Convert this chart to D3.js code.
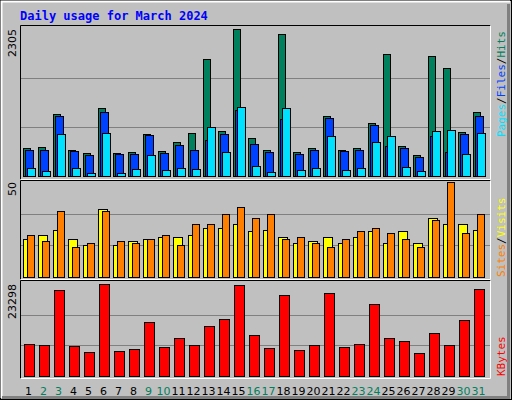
<!DOCTYPE html>
<html><head><meta charset="utf-8">
<script src="https://cdn.jsdelivr.net/npm/d3@7"></script>
<style>body{margin:0;background:#fff}svg{display:block}</style>
</head><body><svg id="c" width="512" height="400"></svg>
<script>
const days = d3.range(1,32);
const weekend = [2,3,9,10,16,17,23,24,30,31];
const hits  = [439,455,972,408,361,1066,361,376,659,392,533,674,1835,706,2305,596,408,2227,376,439,941,408,439,831,1913,470,329,1882,1693,690,1003];
const files = [408,408,941,392,329,1003,345,345,643,361,486,408,564,659,1035,502,376,894,345,408,909,392,408,800,470,439,298,627,376,659,941];
const pages = [125,78,659,125,47,674,47,110,329,94,125,110,768,376,1082,157,63,1066,94,125,627,94,125,533,627,141,78,706,721,345,674];
const visits= [20,22,25,20,17,36,17,19,20,21,21,22,26,26,28,24,25,21,18,19,21,18,21,24,18,24,18,31,28,28,25];
const sites = [22,19,35,16,18,35,19,18,20,22,17,28,28,33,37,31,33,20,21,18,16,20,24,26,23,20,16,30,50,23,33];
const kbytes= [8103,7850,21776,7597,6077,23298,6330,6837,13673,7343,9622,7850,12660,14433,23100,10382,7090,20510,6583,7850,21016,7343,8103,18231,9622,8862,5824,10888,7850,14180,22029];
const maxTop = 2305, maxMid = 50, maxBot = 23298;

const svg = d3.select("#c");
const mono = "DejaVu Sans Mono, monospace";
svg.append("rect").attr("width",512).attr("height",400).attr("fill","#c0c0c0");
svg.append("rect").attr("x",0.5).attr("y",0.5).attr("width",511).attr("height",399).attr("fill","none").attr("stroke","#000");
svg.append("path").attr("d","M1.5,398V1.5H510").attr("stroke","#fff").attr("stroke-width",2).attr("fill","none");
svg.append("path").attr("d","M2,397.5H508.5V4").attr("stroke","#808080").attr("stroke-width",3).attr("fill","none");

svg.append("text").attr("x",20).attr("y",20).attr("fill","#0000ff").attr("font-family",mono)
  .attr("font-weight","bold").attr("font-size",12).text("Daily usage for March 2024");

const x = d3.scaleBand().domain(days).range([22.5,487.5]);
const panels = [[25,180,176,29],[180,280,277,182],[280,379,376,284]];
panels.forEach(([t,b])=>{
  svg.append("path").attr("d",`M20.5,${b-0.5}V${t+0.5}H490.5`).attr("stroke","#000").attr("fill","none");
  svg.append("path").attr("d",`M20.5,${b-0.5}H490.5V${t+0.5}`).attr("stroke","#fff").attr("fill","none");
});
const yT = d3.scaleLinear().domain([0,maxTop]).range([176,29]);
const yM = d3.scaleLinear().domain([0,maxMid]).range([277,182]);
const yB = d3.scaleLinear().domain([0,maxBot]).range([376,284]);
function grid(y,max){[1/3,2/3].forEach(f=>{
  svg.append("line").attr("x1",21).attr("x2",490).attr("y1",Math.round(y(max*f))+0.5).attr("y2",Math.round(y(max*f))+0.5).attr("stroke","#808080");
});}
grid(yT,maxTop);grid(yM,maxMid);grid(yB,maxBot);

function bars(data,y,off,w,color){
  svg.append("g").selectAll("rect").data(data).join("rect")
    .attr("x",(d,i)=>Math.round(x(days[i]))+off+0.5).attr("width",w)
    .attr("y",d=>Math.round(y(d))+0.5).attr("height",d=>y(0)-Math.round(y(d)))
    .attr("fill",color).attr("stroke","#000");
}
bars(hits,yT,0,7,"#00805c");
bars(files,yT,2,8,"#0040ff");
bars(pages,yT,4,8,"#00e0ff");
bars(visits,yM,0,9,"#ffff00");
bars(sites,yM,4,7,"#ff8000");
bars(kbytes,yB,1,10,"#ff0000");

svg.append("g").selectAll("text").data(days).join("text")
  .attr("x",d=>x(d)+6).attr("y",395).attr("text-anchor","middle")
  .attr("font-family","DejaVu Sans, sans-serif").attr("font-size",11)
  .attr("fill",d=>weekend.includes(d)?"#00805c":"#000").text(d=>d);

function vlabel(txt,xx,yy){
  svg.append("text").attr("transform",`translate(${xx},${yy}) rotate(-90)`).attr("text-anchor","end")
   .attr("font-family","DejaVu Sans, sans-serif").attr("font-size",11).text(txt);
}
vlabel(maxTop,16,29);vlabel(maxMid,16,182);vlabel(maxBot,16,284);

function rlabel(parts,yy){
  const t=svg.append("text").attr("transform",`translate(496,${yy}) rotate(90)`)
   .attr("font-family",mono).attr("font-size",11).attr("text-anchor","end");
  parts.forEach(([s,c])=>t.append("tspan").attr("fill",c).text(s));
}
function rl(parts,yy){
  const t=svg.append("text").attr("transform",`translate(505,${yy}) rotate(-90)`)
   .attr("font-family",mono).attr("font-size",11);
  parts.forEach(([s,c])=>t.append("tspan").attr("fill",c).text(s));
}
rl([["Pages","#00e0ff"],["/","#000"],["Files","#0040ff"],["/","#000"],["Hits","#00805c"]],137);
rl([["Sites","#ff8000"],["/","#000"],["Visits","#ffff00"]],277);
rl([["KBytes","#ff0000"]],376);
</script></body></html>
